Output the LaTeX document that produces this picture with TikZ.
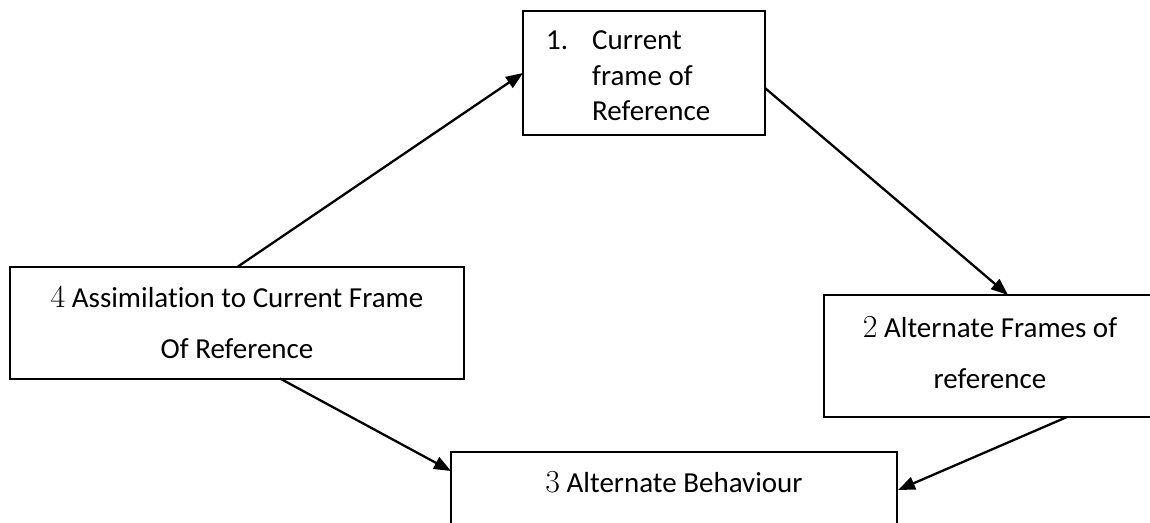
\documentclass[tikz,border=0pt]{standalone}
\usepackage{fontspec}
\setmainfont{Carlito}[Ligatures=NoCommon]
\newfontfamily\numfont{Latin Modern Roman}
\usetikzlibrary{arrows.meta}
\tikzset{
  box/.style={draw=black, line width=2pt, rectangle, inner sep=0pt},
  txt/.style={anchor=base west, inner sep=0pt, font=\fontsize{29}{34}\selectfont},
  ctxt/.style={anchor=base, inner sep=0pt, font=\fontsize{29}{34}\selectfont},
  conn/.style={line width=2.3pt, -{Triangle[length=17pt,width=13pt]}}
}
\newcommand{\bignum}[1]{{\numfont\fontsize{32}{34}\selectfont #1}}
\begin{document}
\begin{tikzpicture}[x=1pt,y=-1pt]
\useasboundingbox (0,0) rectangle (1150,522);
\clip (0,0) rectangle (1150,522);
\fill[white] (0,0) rectangle (1150,522);
% boxes
\node[box, minimum width=242pt, minimum height=124pt] (b1) at (644,72.5) {};
\node[box, minimum width=454pt, minimum height=112pt] (b4) at (237,322.5) {};
\node[box, minimum width=332pt, minimum height=122pt] (b2) at (990,356) {};
\node[box, minimum width=446pt, minimum height=88pt] (b3) at (674,496) {};
% texts
\node[txt] (t1a) at (546,49) {1.};
\node[txt] (t1b) at (592,49) {Current};
\node[txt] (t1c) at (592,85) {frame of};
\node[txt] (t1d) at (592,120) {Reference};
\node[ctxt] (t4a) at (237,307) {\bignum{4} Assimilation to Current Frame};
\node[ctxt] (t4b) at (237,358) {Of Reference};
\node[ctxt] (t2a) at (990,337) {\bignum{2} Alternate Frames of};
\node[ctxt] (t2b) at (990,388) {reference};
\node[ctxt] (t3a) at (674,492) {\bignum{3} Alternate Behaviour};
% connector end points
\coordinate (p1s) at (238,266.5);
\coordinate (p1e) at (523,73);
\coordinate (p2s) at (765,88);
\coordinate (p2e) at (1008,295);
\coordinate (p3s) at (1067,417);
\coordinate (p3e) at (898,490);
\coordinate (p4s) at (280,378.5);
\coordinate (p4e) at (451,471);
\draw[conn] (p1s) -- (p1e);
\draw[conn] (p2s) -- (p2e);
\draw[conn] (p3s) -- (p3e);
\draw[conn] (p4s) -- (p4e);
\end{tikzpicture}
\end{document}
